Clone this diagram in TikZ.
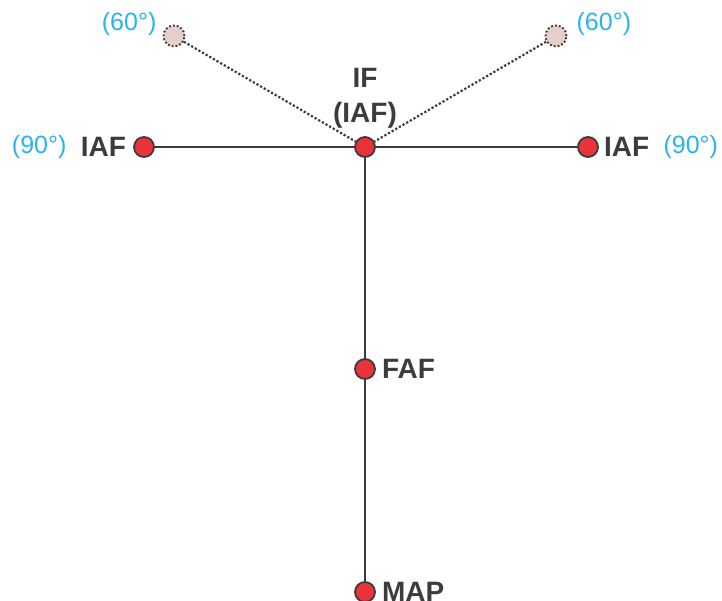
\documentclass[tikz,border=0pt]{standalone}
\usepackage{fontspec}
\setmainfont{Liberation Sans}
\usetikzlibrary{positioning}
\definecolor{fixred}{HTML}{E8333A}
\definecolor{legray}{HTML}{3C3C3C}
\definecolor{coursecyan}{HTML}{2AB4EC}
\definecolor{ghostpink}{HTML}{E6CFCB}
\tikzset{
	fix/.style={circle, draw=legray, fill=fixred, line width=1.8pt, minimum size=20pt, inner sep=0pt},
	ghostfix/.style={circle, draw=legray, fill=ghostpink, dotted, line width=1.9pt, minimum size=21pt, inner sep=0pt},
	fixname/.style={font=\fontsize{28}{35}\selectfont\bfseries, text=legray, inner sep=0pt},
	course/.style={font=\fontsize{25}{30}\selectfont, text=coursecyan, inner sep=0pt},
	leg/.style={draw=legray, line width=2.2pt},
	ghostleg/.style={draw=legray, line width=2.2pt, dotted}
}

\begin{document}
\begin{tikzpicture}[x=1pt, y=-1pt]
	\useasboundingbox (0,0) rectangle (722,601);
	% fixes
	\node[fix] (IF) at (365,147) {};
	\node[fix] (iafL) at (144,147) {} edge[leg] (IF);
	\node[fix] (iafR) at (588,147) {} edge[leg] (IF);
	\node[fix] (FAF) at (365,369) {} edge[leg] (IF);
	\node[fix] (MAP) at (365,592) {} edge[leg] (FAF);
	\node[ghostfix] (ghostL) at (174,36) {} edge[ghostleg] (IF);
	\node[ghostfix] (ghostR) at (556,36) {} edge[ghostleg] (IF);
	
	% names
	\node[fixname, align=center] (IFname) [above=8pt of IF] {IF\\(IAF)};
	\node[fixname] (iafLname) [left=7pt of iafL] {IAF};
	\node[fixname] (iafRname) [right=5pt of iafR] {IAF};
	\node[fixname] (FAFname) [right=6pt of FAF] {FAF};
	\node[fixname] (MAPname) [right=6pt of MAP] {MAP};
	
	% course changes
	\node[course] (iafLcourse) [left=14pt of iafLname] {(90°)};
	\node[course] (iafRcourse) [right=14pt of iafRname] {(90°)};
	\node[course] (ghostLcourse) [left=6pt of ghostL, yshift=12pt] {(60°)};
	\node[course] (ghostRcourse) [right=9pt of ghostR, yshift=12pt] {(60°)};
\end{tikzpicture}
\end{document}
